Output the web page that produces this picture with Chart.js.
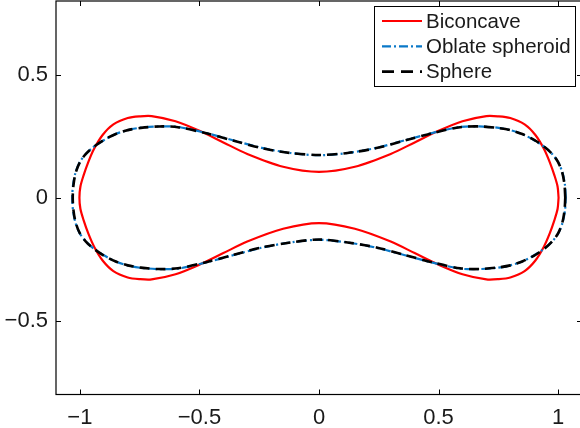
<!DOCTYPE html>
<html>
<head>
<meta charset="utf-8">
<script src="https://cdn.jsdelivr.net/npm/chart.js@4.4.1/dist/chart.umd.min.js"></script>
<style>
  html, body { margin: 0; padding: 0; background: #fff; overflow: hidden; }
  #wrap { width: 600px; height: 428px; }
</style>
</head>
<body>
<div id="wrap"><canvas id="shapes" width="600" height="428"></canvas></div>
<script>
// axis ticks
const xTicks = [-1, -0.5, 0, 0.5, 1];
const yTicks = [-0.5, 0, 0.5];

// cell outlines, traced as closed loops (upper half then lower half)
const biconcaveX = [1.002, 0.998, 0.985, 0.965, 0.94, 0.905, 0.86, 0.8, 0.75, 0.7, 0.6, 0.5, 0.4, 0.3, 0.15, 0,
  -0.15, -0.3, -0.4, -0.5, -0.6, -0.7, -0.75, -0.8, -0.86, -0.905, -0.94, -0.965, -0.985, -0.998, -1.002,
  -0.998, -0.985, -0.965, -0.94, -0.905, -0.86, -0.8, -0.75, -0.7, -0.6, -0.5, -0.4, -0.3, -0.15, 0,
  0.15, 0.3, 0.4, 0.5, 0.6, 0.7, 0.75, 0.8, 0.86, 0.905, 0.94, 0.965, 0.985, 0.998, 1.002];
const biconcaveY = [0, 0.045, 0.09, 0.145, 0.2, 0.255, 0.298, 0.324, 0.331, 0.332, 0.311, 0.272, 0.225, 0.178, 0.126, 0.105,
  0.126, 0.178, 0.225, 0.272, 0.311, 0.332, 0.331, 0.324, 0.298, 0.255, 0.2, 0.145, 0.09, 0.045, 0,
  -0.045, -0.09, -0.145, -0.2, -0.255, -0.298, -0.324, -0.331, -0.332, -0.311, -0.272, -0.225, -0.178, -0.126, -0.103,
  -0.126, -0.178, -0.225, -0.272, -0.311, -0.332, -0.331, -0.324, -0.298, -0.255, -0.2, -0.145, -0.09, -0.045, 0];

const oblateX = [1.032, 1.029, 1.019, 1.001, 0.976, 0.946, 0.9, 0.85, 0.8, 0.745, 0.67, 0.59, 0.48, 0.36, 0.24, 0.12, 0,
  -0.12, -0.24, -0.36, -0.48, -0.59, -0.67, -0.745, -0.8, -0.85, -0.9, -0.946, -0.976, -1.001, -1.019, -1.029, -1.032,
  -1.029, -1.019, -1.001, -0.976, -0.946, -0.9, -0.85, -0.8, -0.745, -0.67, -0.59, -0.48, -0.36, -0.24, -0.12, 0,
  0.12, 0.24, 0.36, 0.48, 0.59, 0.67, 0.745, 0.8, 0.85, 0.9, 0.946, 0.976, 1.001, 1.019, 1.029, 1.032];
const oblateY = [0, 0.05, 0.1, 0.144, 0.177, 0.204, 0.234, 0.259, 0.275, 0.285, 0.29, 0.288, 0.265, 0.234, 0.203, 0.182, 0.173,
  0.182, 0.203, 0.234, 0.265, 0.288, 0.29, 0.285, 0.275, 0.259, 0.234, 0.204, 0.177, 0.144, 0.1, 0.05, 0,
  -0.05, -0.1, -0.144, -0.177, -0.204, -0.234, -0.259, -0.275, -0.285, -0.29, -0.288, -0.265, -0.234, -0.203, -0.182, -0.171,
  -0.182, -0.203, -0.234, -0.265, -0.288, -0.29, -0.285, -0.275, -0.259, -0.234, -0.204, -0.177, -0.144, -0.1, -0.05, 0];

const sphereX = [1.03, 1.027, 1.018, 1.0, 0.975, 0.945, 0.9, 0.85, 0.8, 0.745, 0.67, 0.59, 0.48, 0.36, 0.24, 0.12, 0,
  -0.12, -0.24, -0.36, -0.48, -0.59, -0.67, -0.745, -0.8, -0.85, -0.9, -0.945, -0.975, -1.0, -1.018, -1.027, -1.03,
  -1.027, -1.018, -1.0, -0.975, -0.945, -0.9, -0.85, -0.8, -0.745, -0.67, -0.59, -0.48, -0.36, -0.24, -0.12, 0,
  0.12, 0.24, 0.36, 0.48, 0.59, 0.67, 0.745, 0.8, 0.85, 0.9, 0.945, 0.975, 1.0, 1.018, 1.027, 1.03];
const sphereY = [0, 0.05, 0.1, 0.145, 0.178, 0.205, 0.235, 0.259, 0.275, 0.284, 0.29, 0.287, 0.264, 0.233, 0.202, 0.182, 0.174,
  0.182, 0.202, 0.233, 0.264, 0.287, 0.29, 0.284, 0.275, 0.259, 0.235, 0.205, 0.178, 0.145, 0.1, 0.05, 0,
  -0.05, -0.1, -0.145, -0.178, -0.205, -0.235, -0.259, -0.275, -0.284, -0.29, -0.287, -0.264, -0.233, -0.202, -0.182, -0.17,
  -0.182, -0.202, -0.233, -0.264, -0.287, -0.29, -0.284, -0.275, -0.259, -0.235, -0.205, -0.178, -0.145, -0.1, -0.05, 0];

const toPoints = (xs, ys) => xs.map((x, i) => ({ x: x, y: ys[i] }));
const minus = v => (v < 0 ? '\u2212' + Math.abs(v) : String(v));

// MATLAB-like frame: box all round, ticks pointing inward on all four sides
const framePlugin = {
  id: 'frame',
  afterDraw(chart) {
    const { ctx, chartArea: a, scales } = chart;
    ctx.save();
    ctx.strokeStyle = '#000';
    ctx.lineWidth = 1.2;
    ctx.strokeRect(a.left, a.top, a.right - a.left, a.bottom - a.top);
    ctx.lineWidth = 1;
    ctx.beginPath();
    xTicks.forEach(v => {
      const px = Math.round(scales.x.getPixelForValue(v)) + 0.5;
      ctx.moveTo(px, a.bottom); ctx.lineTo(px, a.bottom - 5);
      ctx.moveTo(px, a.top); ctx.lineTo(px, a.top + 5);
    });
    yTicks.forEach(v => {
      const py = Math.round(scales.y.getPixelForValue(v)) + 0.5;
      ctx.moveTo(a.left, py); ctx.lineTo(a.left + 5, py);
      ctx.moveTo(a.right, py); ctx.lineTo(a.right - 5, py);
    });
    ctx.stroke();
    ctx.restore();
  }
};

// boxed legend in the upper right corner
const legendPlugin = {
  id: 'boxLegend',
  afterDraw(chart) {
    const ctx = chart.ctx;
    const left = 374.5, top = 6.5, w = 201, h = 80;
    ctx.save();
    ctx.fillStyle = '#fff';
    ctx.fillRect(left, top, w, h);
    ctx.strokeStyle = '#000';
    ctx.lineWidth = 1;
    ctx.strokeRect(left, top, w, h);
    ctx.font = '20.5px "Liberation Sans", Arial, sans-serif';
    ctx.textBaseline = 'middle';
    chart.data.datasets.forEach((ds, i) => {
      const y = 21 + i * 25.3;
      ctx.strokeStyle = ds.borderColor;
      ctx.lineWidth = ds.borderWidth;
      ctx.setLineDash(ds.legendDash || ds.borderDash || []);
      ctx.beginPath();
      ctx.moveTo(382, y);
      ctx.lineTo(422, y);
      ctx.stroke();
      ctx.setLineDash([]);
      ctx.fillStyle = '#1a1a1a';
      ctx.fillText(ds.label, 426, y + 1);
    });
    ctx.restore();
  }
};

new Chart(document.getElementById('shapes'), {
  type: 'scatter',
  data: {
    datasets: [
      {
        label: 'Biconcave',
        data: toPoints(biconcaveX, biconcaveY),
        borderColor: '#ff0000',
        borderWidth: 2.2,
        order: 3
      },
      {
        label: 'Oblate spheroid',
        data: toPoints(oblateX, oblateY),
        borderColor: '#0a78c8',
        borderWidth: 2.2,
        borderDash: [9, 3, 2, 3],
        order: 2
      },
      {
        label: 'Sphere',
        data: toPoints(sphereX, sphereY),
        borderColor: '#000000',
        borderWidth: 2.6,
        borderDash: [10, 6],
        legendDash: [12, 7],
        order: 1
      }
    ].map(ds => Object.assign(ds, { showLine: true, pointRadius: 0, tension: 0.3, fill: false }))
  },
  options: {
    responsive: false,
    animation: false,
    layout: { padding: { top: 1, right: 18, left: 0, bottom: 0 } },
    plugins: { legend: { display: false }, tooltip: { enabled: false } },
    scales: {
      x: {
        type: 'linear',
        min: -1.1,
        max: 1.1,
        grid: { display: false },
        border: { display: false },
        afterBuildTicks: s => { s.ticks = xTicks.map(v => ({ value: v })); },
        afterFit: s => { s.height = 33.5; s.paddingLeft = 0; s.paddingRight = 0; },
        ticks: {
          color: '#1a1a1a',
          padding: 2,
          maxRotation: 0,
          font: { family: '"Liberation Sans", Arial, sans-serif', size: 22 },
          callback: v => minus(v)
        }
      },
      y: {
        type: 'linear',
        min: -0.8,
        max: 0.8,
        grid: { display: false },
        border: { display: false },
        afterBuildTicks: s => { s.ticks = yTicks.map(v => ({ value: v })); },
        afterFit: s => { s.width = 56; s.paddingTop = 0; s.paddingBottom = 0; },
        ticks: {
          color: '#1a1a1a',
          padding: 0,
          font: { family: '"Liberation Sans", Arial, sans-serif', size: 22 },
          callback: v => minus(v)
        }
      }
    }
  },
  plugins: [framePlugin, legendPlugin]
});
</script>
</body>
</html>
